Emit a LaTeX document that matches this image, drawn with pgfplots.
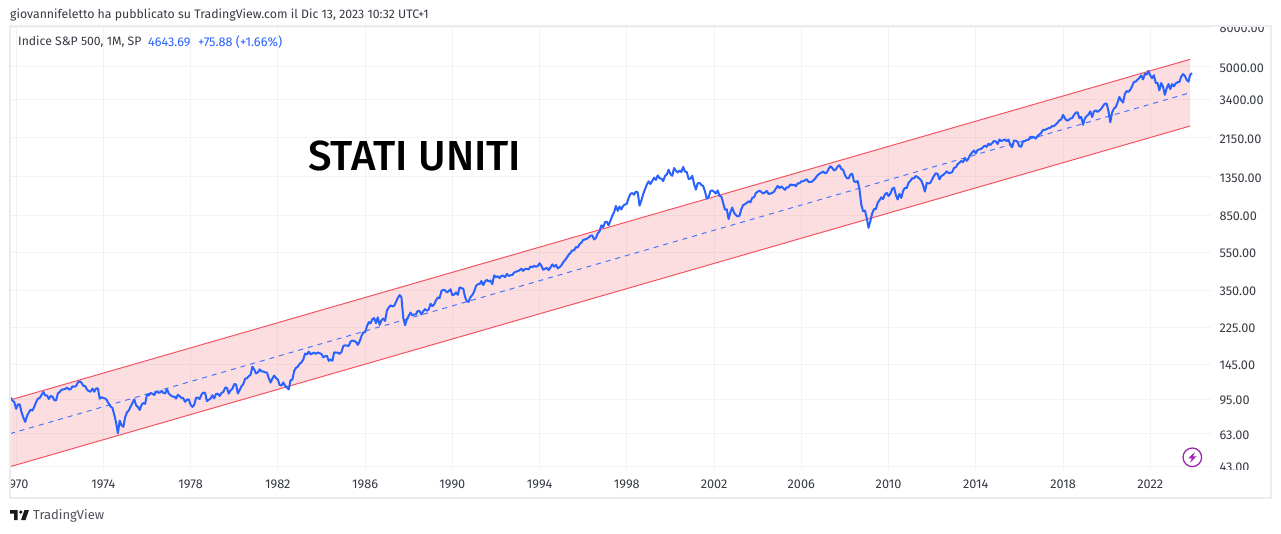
\documentclass[border=0pt]{standalone}
\usepackage{fontspec}
\usepackage{pgfplots}
\usepackage{pgfplotstable}
\pgfplotsset{compat=1.18}
\setmainfont{Fira Sans}
\newfontfamily\titlefont{Fira Sans Medium}
\definecolor{tvblue}{HTML}{2962FF}
\definecolor{tvred}{HTML}{F23645}
\definecolor{tvgrid}{HTML}{F2F3F6}
\definecolor{tvtext}{HTML}{131722}
\definecolor{tvpurple}{HTML}{9C27B0}

% monthly closes, Oct 1969 to Dec 2023
\pgfplotstableread[row sep=\\]{
close\\
97.12\\ 93.81\\ 92.06\\
85.02\\ 89.50\\ 89.63\\ 81.52\\ 76.55\\ 72.72\\ 78.05\\ 81.52\\ 84.21\\ 83.25\\ 87.20\\ 92.15\\
95.88\\ 96.75\\ 100.31\\ 103.95\\ 99.63\\ 99.70\\ 95.58\\ 99.03\\ 98.34\\ 94.23\\ 93.99\\ 102.09\\
103.94\\ 106.57\\ 107.20\\ 107.67\\ 109.53\\ 107.14\\ 107.39\\ 111.09\\ 110.55\\ 111.58\\ 116.67\\ 118.05\\
116.03\\ 111.68\\ 111.52\\ 106.97\\ 104.95\\ 104.26\\ 108.22\\ 104.25\\ 108.43\\ 108.29\\ 95.96\\ 97.55\\
96.57\\ 96.22\\ 93.98\\ 90.31\\ 87.28\\ 86.00\\ 79.31\\ 72.15\\ 63.54\\ 73.90\\ 69.97\\ 68.56\\
76.98\\ 81.59\\ 83.36\\ 87.30\\ 91.15\\ 95.19\\ 88.75\\ 86.88\\ 83.87\\ 89.04\\ 91.24\\ 90.19\\
100.86\\ 99.71\\ 102.77\\ 101.64\\ 100.18\\ 104.28\\ 103.44\\ 102.91\\ 105.24\\ 102.90\\ 102.10\\ 107.46\\
102.03\\ 99.82\\ 98.42\\ 98.44\\ 96.12\\ 100.48\\ 98.85\\ 96.77\\ 96.53\\ 92.34\\ 94.83\\ 95.10\\
89.25\\ 87.04\\ 89.21\\ 96.83\\ 97.24\\ 95.53\\ 100.68\\ 103.29\\ 102.54\\ 93.15\\ 94.70\\ 96.11\\
99.93\\ 96.28\\ 101.59\\ 101.76\\ 99.08\\ 102.91\\ 103.81\\ 109.32\\ 109.32\\ 101.82\\ 106.16\\ 107.94\\
114.16\\ 113.66\\ 102.09\\ 106.29\\ 111.24\\ 114.24\\ 121.67\\ 122.38\\ 125.46\\ 127.47\\ 140.52\\ 135.76\\
129.55\\ 131.27\\ 136.00\\ 132.81\\ 132.59\\ 131.21\\ 130.92\\ 122.79\\ 116.18\\ 121.89\\ 126.35\\ 122.55\\
120.40\\ 113.11\\ 111.96\\ 116.44\\ 111.88\\ 109.61\\ 107.09\\ 119.51\\ 120.42\\ 133.71\\ 138.54\\ 140.64\\
145.30\\ 148.06\\ 152.96\\ 164.42\\ 162.39\\ 168.11\\ 162.56\\ 164.40\\ 166.07\\ 163.55\\ 166.40\\ 164.93\\
163.41\\ 157.06\\ 159.18\\ 160.05\\ 150.55\\ 153.18\\ 150.66\\ 166.68\\ 166.10\\ 166.09\\ 163.58\\ 167.24\\
179.63\\ 181.18\\ 180.66\\ 179.83\\ 189.55\\ 191.85\\ 190.92\\ 188.63\\ 182.08\\ 189.82\\ 202.17\\ 211.28\\
211.78\\ 226.92\\ 238.90\\ 235.52\\ 247.35\\ 250.84\\ 236.12\\ 252.93\\ 231.32\\ 243.98\\ 249.22\\ 242.17\\
274.08\\ 284.20\\ 291.70\\ 288.36\\ 290.10\\ 304.00\\ 318.66\\ 329.80\\ 321.83\\ 251.79\\ 230.30\\ 247.08\\
257.07\\ 267.82\\ 258.89\\ 261.33\\ 262.16\\ 273.50\\ 272.02\\ 261.52\\ 271.91\\ 278.97\\ 273.70\\ 277.72\\
297.47\\ 288.86\\ 294.87\\ 309.64\\ 320.52\\ 317.98\\ 346.08\\ 351.45\\ 349.15\\ 340.36\\ 345.99\\ 353.40\\
329.08\\ 331.89\\ 339.94\\ 330.80\\ 361.23\\ 358.02\\ 356.15\\ 322.56\\ 306.05\\ 304.00\\ 322.22\\ 330.22\\
343.93\\ 367.07\\ 375.22\\ 375.34\\ 389.83\\ 371.16\\ 387.81\\ 395.43\\ 387.86\\ 392.45\\ 375.22\\ 417.09\\
408.79\\ 412.70\\ 403.69\\ 414.95\\ 415.35\\ 408.14\\ 424.21\\ 414.03\\ 417.80\\ 418.68\\ 431.35\\ 435.71\\
438.78\\ 443.38\\ 451.67\\ 440.19\\ 450.19\\ 450.53\\ 448.13\\ 463.56\\ 458.93\\ 467.83\\ 461.79\\ 466.45\\
481.61\\ 467.14\\ 445.77\\ 450.91\\ 456.50\\ 444.27\\ 458.26\\ 475.49\\ 462.69\\ 472.35\\ 453.69\\ 459.27\\
470.42\\ 487.39\\ 500.71\\ 514.71\\ 533.40\\ 544.75\\ 562.06\\ 561.88\\ 584.41\\ 581.50\\ 605.37\\ 615.93\\
636.02\\ 640.43\\ 645.50\\ 654.17\\ 669.12\\ 670.63\\ 639.95\\ 651.99\\ 687.31\\ 705.27\\ 757.02\\ 740.74\\
786.16\\ 790.82\\ 757.12\\ 801.34\\ 848.28\\ 885.14\\ 954.29\\ 899.47\\ 947.28\\ 914.62\\ 955.40\\ 970.43\\
980.28\\ 1049.34\\ 1101.75\\ 1111.75\\ 1090.82\\ 1133.84\\ 1120.67\\ 957.28\\ 1017.01\\ 1098.67\\ 1163.63\\ 1229.23\\
1279.64\\ 1238.33\\ 1286.37\\ 1335.18\\ 1301.84\\ 1372.71\\ 1328.72\\ 1320.41\\ 1282.71\\ 1362.93\\ 1388.91\\ 1469.25\\
1394.46\\ 1366.42\\ 1498.58\\ 1452.43\\ 1420.60\\ 1454.60\\ 1430.83\\ 1517.68\\ 1436.51\\ 1429.40\\ 1314.95\\ 1320.28\\
1366.01\\ 1239.94\\ 1160.33\\ 1249.46\\ 1255.82\\ 1224.38\\ 1211.23\\ 1133.58\\ 1040.94\\ 1059.78\\ 1139.45\\ 1148.08\\
1130.20\\ 1106.73\\ 1147.39\\ 1076.92\\ 1067.14\\ 989.82\\ 911.62\\ 916.07\\ 815.28\\ 885.76\\ 936.31\\ 879.82\\
855.70\\ 841.15\\ 849.18\\ 916.92\\ 963.59\\ 974.50\\ 990.31\\ 1008.01\\ 995.97\\ 1050.71\\ 1058.20\\ 1111.92\\
1131.13\\ 1144.94\\ 1126.21\\ 1107.30\\ 1120.68\\ 1140.84\\ 1101.72\\ 1104.24\\ 1114.58\\ 1130.20\\ 1173.82\\ 1211.92\\
1181.27\\ 1203.60\\ 1180.59\\ 1156.85\\ 1191.50\\ 1191.33\\ 1234.18\\ 1220.33\\ 1228.81\\ 1207.01\\ 1249.48\\ 1248.29\\
1280.08\\ 1280.66\\ 1294.87\\ 1310.61\\ 1270.09\\ 1270.20\\ 1276.66\\ 1303.82\\ 1335.85\\ 1377.94\\ 1400.63\\ 1418.30\\
1438.24\\ 1406.82\\ 1420.86\\ 1482.37\\ 1530.62\\ 1503.35\\ 1455.27\\ 1473.99\\ 1526.75\\ 1549.38\\ 1481.14\\ 1468.36\\
1378.55\\ 1330.63\\ 1322.70\\ 1385.59\\ 1400.38\\ 1280.00\\ 1267.38\\ 1282.83\\ 1166.36\\ 968.75\\ 896.24\\ 903.25\\
825.88\\ 735.09\\ 797.87\\ 872.81\\ 919.14\\ 919.32\\ 987.48\\ 1020.62\\ 1057.08\\ 1036.19\\ 1095.63\\ 1115.10\\
1073.87\\ 1104.49\\ 1169.43\\ 1186.69\\ 1089.41\\ 1030.71\\ 1101.60\\ 1049.33\\ 1141.20\\ 1183.26\\ 1180.55\\ 1257.64\\
1286.12\\ 1327.22\\ 1325.83\\ 1363.61\\ 1345.20\\ 1320.64\\ 1292.28\\ 1218.89\\ 1131.42\\ 1253.30\\ 1246.96\\ 1257.60\\
1312.41\\ 1365.68\\ 1408.47\\ 1397.91\\ 1310.33\\ 1362.16\\ 1379.32\\ 1406.58\\ 1440.67\\ 1412.16\\ 1416.18\\ 1426.19\\
1498.11\\ 1514.68\\ 1569.19\\ 1597.57\\ 1630.74\\ 1606.28\\ 1685.73\\ 1632.97\\ 1681.55\\ 1756.54\\ 1805.81\\ 1848.36\\
1782.59\\ 1859.45\\ 1872.34\\ 1883.95\\ 1923.57\\ 1960.23\\ 1930.67\\ 2003.37\\ 1972.29\\ 2018.05\\ 2067.56\\ 2058.90\\
1994.99\\ 2104.50\\ 2067.89\\ 2085.51\\ 2107.39\\ 2063.11\\ 2103.84\\ 1972.18\\ 1920.03\\ 2079.36\\ 2080.41\\ 2043.94\\
1940.24\\ 1932.23\\ 2059.74\\ 2065.30\\ 2096.96\\ 2098.86\\ 2173.60\\ 2170.95\\ 2168.27\\ 2126.15\\ 2198.81\\ 2238.83\\
2278.87\\ 2363.64\\ 2362.72\\ 2384.20\\ 2411.80\\ 2423.41\\ 2470.30\\ 2471.65\\ 2519.36\\ 2575.26\\ 2648.05\\ 2673.61\\
2823.81\\ 2713.83\\ 2640.87\\ 2648.05\\ 2705.27\\ 2718.37\\ 2816.29\\ 2901.52\\ 2913.98\\ 2711.74\\ 2760.17\\ 2506.85\\
2704.10\\ 2784.49\\ 2834.40\\ 2945.83\\ 2752.06\\ 2941.76\\ 2980.38\\ 2926.46\\ 2976.74\\ 3037.56\\ 3140.98\\ 3230.78\\
3225.52\\ 2954.22\\ 2584.59\\ 2912.43\\ 3044.31\\ 3100.29\\ 3271.12\\ 3500.31\\ 3363.00\\ 3269.96\\ 3621.63\\ 3756.07\\
3714.24\\ 3811.15\\ 3972.89\\ 4181.17\\ 4204.11\\ 4297.50\\ 4395.26\\ 4522.68\\ 4307.54\\ 4605.38\\ 4567.00\\ 4766.18\\
4515.55\\ 4373.94\\ 4530.41\\ 4131.93\\ 4132.15\\ 3785.38\\ 4130.29\\ 3955.00\\ 3585.62\\ 3871.98\\ 4080.11\\ 3839.50\\
4076.60\\ 3970.15\\ 4109.31\\ 4169.48\\ 4179.83\\ 4450.38\\ 4588.96\\ 4507.66\\ 4288.05\\ 4193.80\\ 4567.80\\ 4643.69\\
}\spx

\begin{document}
\begin{tikzpicture}
\useasboundingbox (0pt,0pt) rectangle (1281pt,533pt);
\fill[white] (0pt,0pt) rectangle (1281pt,533pt);

\begin{axis}[
  at={(11pt,63pt)}, anchor=south west,
  scale only axis,
  width=1200pt, height=442.5pt,
  ymode=log,
  xmin=1969.766, xmax=2024.783,
  ymin=41.0, ymax=8003,
  axis line style={draw=none},
  tick style={draw=none},
  grid=major,
  grid style={tvgrid, line width=1pt},
  xtick={1970,1974,1978,1982,1986,1990,1994,1998,2002,2006,2010,2014,2018,2022},
  xticklabels={1970,1974,1978,1982,1986,1990,1994,1998,2002,2006,2010,2014,2018,2022},
  ytick={43,63,95,145,225,350,550,850,1350,2150,3400,5000,8000},
  yticklabels={43.00,63.00,95.00,145.00,225.00,350.00,550.00,850.00,1350.00,2150.00,3400.00,5000.00,8000.00},
  yticklabel pos=right,
  minor y tick num=0,
  tick label style={font=\fontsize{12.7}{14}\selectfont, text=tvtext!85},
  /pgf/number format/assume math mode=true,
  xticklabel style={yshift=-6.5pt},
  yticklabel style={xshift=5pt, yshift=-1pt},
]
  % channel
  \addplot[draw=none, fill=tvred, fill opacity=0.16] coordinates {
    (1969.72,94.4) (2023.83,5479) (2023.83,2474) (1969.72,42.64)} --cycle;
  \addplot[tvred!85!white, line width=1pt] coordinates {(1969.72,94.4) (2023.83,5479)};
  \addplot[tvred!85!white, line width=1pt] coordinates {(1969.72,42.64) (2023.83,2474)};
  \addplot[tvblue, line width=1pt, opacity=0.85, dash pattern=on 5pt off 5pt] coordinates {(1969.72,63.2) (2023.83,3679)};
  % index
  \addplot[tvblue, line width=2pt, line join=round] table[x expr=1969.75+\coordindex/12, y=close] {\spx};
\end{axis}

% everything below is in reference pixels, y downwards
\begin{scope}[x=1pt,y=-1pt,yshift=533pt]
\fill[white] (1212,0) rectangle (1270,26);
\fill[white] (1212,470) rectangle (1270,497);
\fill[white] (0,470) rectangle (9,500);
\draw[tvgrid!70!gray!40, line width=2pt] (10,26.5) rectangle (1271,497.5);

\node[anchor=west, inner sep=0pt, text=tvtext!85, font=\fontsize{12.3}{14}\selectfont] at (10,15)
  {giovannifeletto ha pubblicato su TradingView.com il Dic 13, 2023 10:32 UTC+1};
\node[anchor=west, inner sep=0pt, text=tvtext!85, font=\fontsize{12.2}{14}\selectfont] at (18,42)
  {Indice S\&P 500, 1M, SP};
\node[anchor=west, inner sep=0pt, text=tvblue, font=\fontsize{12.6}{14}\selectfont] at (148,42) {4643.69};
\node[anchor=west, inner sep=0pt, text=tvblue, font=\fontsize{12.7}{14}\selectfont] at (198,42) {+75.88 (+1.66\%)};
\node[anchor=west, inner sep=0pt, text=black, font=\fontsize{42}{48}\titlefont] at (308,156) {STATI UNITI};

\fill[black!90] (10,510) -- (17.5,510) -- (17.5,520) -- (14,520) -- (14,513.5) -- (10,513.5) -- cycle;
\fill[black!90] (20.8,512) circle (1.8);
\fill[black!90] (24.5,510) -- (29,510) -- (25.5,520) -- (21,520) -- cycle;
\node[anchor=west, inner sep=0pt, text=tvtext!75, font=\fontsize{13}{15}\selectfont] at (33,516) {TradingView};

\draw[tvpurple, line width=1.3pt, fill=white] (1192.3,457.3) circle (9.3);
\fill[tvpurple] (1194.8,452) -- (1188.3,458.3) -- (1191.8,458.3) -- (1190.2,462.6) -- (1196.6,456.4) -- (1193,456.4) -- cycle;
\end{scope}
\end{tikzpicture}
\end{document}
